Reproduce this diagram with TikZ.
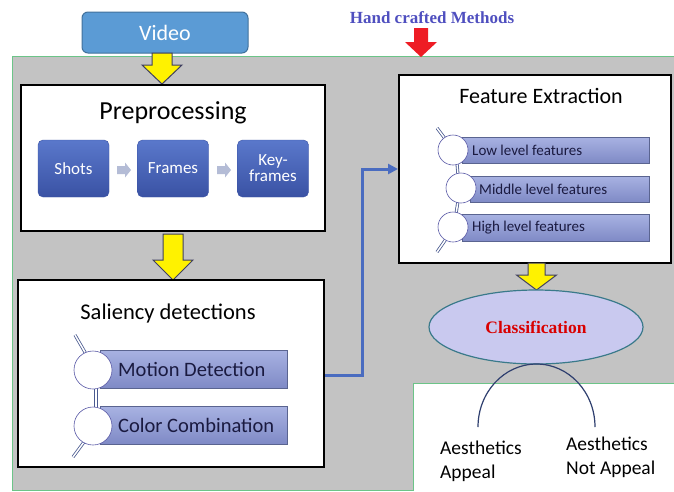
\documentclass[tikz,border=0pt]{standalone}
\usepackage{fontspec}
\setmainfont{Carlito}
\newfontfamily\timesb{Liberation Serif}
\usetikzlibrary{arrows.meta,shapes.geometric}
\definecolor{panelgray}{HTML}{C3C3C3}
\definecolor{panelgreen}{HTML}{6CC488}
\definecolor{videofill}{HTML}{5B9BD5}
\definecolor{videoline}{HTML}{41719C}
\definecolor{boxtop}{HTML}{5A78CB}
\definecolor{boxbot}{HTML}{3A52A4}
\definecolor{bartop}{HTML}{A8B2E2}
\definecolor{barbot}{HTML}{7F8AC6}
\definecolor{barline}{HTML}{5A6490}
\definecolor{stubcol}{HTML}{4A5A90}
\definecolor{conncol}{HTML}{4A6CC0}
\definecolor{ellfill}{HTML}{C9C9EF}
\definecolor{ellline}{HTML}{3A7A8A}
\definecolor{arccol}{HTML}{2F3F6F}
\definecolor{titleblue}{HTML}{4F4FBF}
\definecolor{redarrow}{HTML}{EE1C24}
\definecolor{yelline}{HTML}{404060}
\definecolor{smallarr}{HTML}{B4BCD6}
\definecolor{bartext}{HTML}{1A1A40}
\newcommand{\ydownarrow}[7]{% style, cx, top, shaft half, head half, head start, tip
  \filldraw[#1] (#2-#4,#3) -- (#2+#4,#3) -- (#2+#4,#6) -- (#2+#5,#6) -- (#2,#7) -- (#2-#5,#6) -- (#2-#4,#6) -- cycle;}
\newcommand{\xrightblock}[2]{% left x, center y
  \fill[smallarr] (#1,#2-4) -- (#1+8,#2-4) -- (#1+8,#2-7.5) -- (#1+14,#2) -- (#1+8,#2+7.5) -- (#1+8,#2+4) -- (#1,#2+4) -- cycle;}
\tikzset{
  whitebox/.style={draw=black,line width=2pt,fill=white,minimum width=#1},
  bluebox/.style={rounded corners=5pt,top color=boxtop,bottom color=boxbot,draw=boxbot,
    minimum width=71pt,minimum height=57pt,text=white,align=center,
    font=\fontsize{17}{18}\selectfont,inner sep=0pt},
  barbox/.style={draw=barline,line width=0.6pt,top color=bartop,bottom color=barbot,inner sep=0pt},
  knob/.style={circle,draw=gray!70!blue,line width=0.6pt,fill=white,inner sep=0pt,minimum size=#1},
  stub/.style={draw=stubcol,line width=0.8pt,double=white,double distance=1.5pt},
  bartxt/.style={anchor=west,text=bartext,inner sep=0pt},
  conn/.style={draw=conncol,line width=3pt,-{Triangle[length=10pt,width=10pt]}}
}
\begin{document}
\begin{tikzpicture}[x=1pt,y=-1pt]
\useasboundingbox (0,0) rectangle (674,491);
% gray panel
\filldraw[fill=panelgray,draw=panelgreen,line width=1pt]
  (12,56) -- (674,56) -- (674,383) -- (413,383) -- (413,490) -- (12,490) -- cycle;
% header
\node[text=titleblue,font=\timesb\bfseries\fontsize{17}{18}\selectfont] (hcm) at (432,18) {Hand crafted Methods};
\fill[redarrow] (414,28) -- (428,28) -- (428,42) -- (437,42) -- (421,57) -- (405,42) -- (414,42) -- cycle;
% video
\node[rounded corners=6pt,fill=videofill,draw=videoline,line width=1pt,minimum width=166pt,minimum height=41pt,
  text=white,font=\fontsize{22}{24}\selectfont] (video) at (165,32.5) {Video};
\ydownarrow{fill=yellow,draw=yelline,line width=1pt}{162}{53}{10}{20}{65}{84}
% preprocessing
\node[whitebox=304pt,minimum height=146pt] (pre) at (173,158) {};
\node[font=\fontsize{26}{28}\selectfont] (pretitle) at (173,113) {Preprocessing};
\node[bluebox] (shots) at (73.5,168.5) {Shots};
\node[bluebox] (frames) at (173,168.5) {Frames};
\node[bluebox] (key) at (273,168.5) {Key-\\[-2pt]frames};
\xrightblock{117}{170}
\xrightblock{217}{170}
\ydownarrow{fill=yellow,draw=yelline,line width=1pt}{173}{234}{10}{20}{260}{280}
% saliency
\node[whitebox=306pt,minimum height=187pt] (sal) at (171,373.5) {};
\node[font=\fontsize{22.5}{24}\selectfont] (saltitle) at (168,313) {Saliency detections};
\draw[stub] (75,335) -- (86,354);
\draw[stub] (96,386) -- (96,410);
\draw[stub] (84,442) -- (73,457);
\node[barbox,minimum width=187pt,minimum height=38pt] (motion) at (193.5,369) {};
\node[barbox,minimum width=187pt,minimum height=38pt] (color) at (193.5,425) {};
\node[knob=38pt] (c1) at (93,370) {};
\node[knob=38pt] (c2) at (93,426) {};
\node[bartxt,font=\fontsize{20.5}{22}\selectfont] (mtxt) at (118,369) {Motion Detection};
\node[bartxt,font=\fontsize{20.5}{22}\selectfont] (ctxt) at (118,425) {Color Combination};
% feature extraction
\node[whitebox=272pt,minimum height=188pt] (feat) at (535,169) {};
\node[font=\fontsize{22}{24}\selectfont] (feattitle) at (541,96) {Feature Extraction};
\draw[stub] (437,128) -- (446,140);
\draw[stub] (457,163) -- (458,175);
\draw[stub] (458,201) -- (456,214);
\draw[stub] (446,239) -- (437,252);
\node[barbox,minimum width=187pt,minimum height=26pt] (low) at (555.5,150) {};
\node[barbox,minimum width=179pt,minimum height=26pt] (mid) at (559.5,189) {};
\node[barbox,minimum width=187pt,minimum height=27pt] (high) at (555.5,227.5) {};
\node[knob=30pt] (k1) at (453,150) {};
\node[knob=30pt] (k2) at (461,188) {};
\node[knob=30pt] (k3) at (453,227) {};
\node[bartxt,font=\fontsize{15}{16}\selectfont] (ltxt) at (472,150) {Low level features};
\node[bartxt,font=\fontsize{15}{16}\selectfont] (mdtxt) at (479,189) {Middle level features};
\node[bartxt,font=\fontsize{15}{16}\selectfont] (htxt) at (472,228) {High level features};
% connector
\draw[conn] (sal.east |- 0,375) -- (362,375) |- (feat.west);
% classification
\ydownarrow{fill=yellow,draw=yelline,line width=1pt}{536.5}{263}{8.5}{20}{275}{290}
\node[ellipse,draw=ellline,line width=1.2pt,fill=ellfill,minimum width=214pt,minimum height=74pt,
  text=red!85!black,font=\timesb\bfseries\fontsize{17.5}{18}\selectfont] (cls) at (536,327) {Classification};
% white result area
\fill[white] (414,384) rectangle (674,491);
\draw[panelgreen,line width=1pt] (413,491) -- (413,383) -- (674,383);
\node[align=left,anchor=west,inner sep=0pt,font=\fontsize{19.5}{24}\selectfont] (yes) at (440,461) {Aesthetics\\Appeal};
\node[align=left,anchor=west,inner sep=0pt,font=\fontsize{19.5}{24}\selectfont] (no) at (566,457.5) {Aesthetics\\Not Appeal};
\draw[arccol,line width=1.2pt] (478,427) arc[start angle=180,end angle=360,x radius=58.5,y radius=63];
\end{tikzpicture}
\end{document}
